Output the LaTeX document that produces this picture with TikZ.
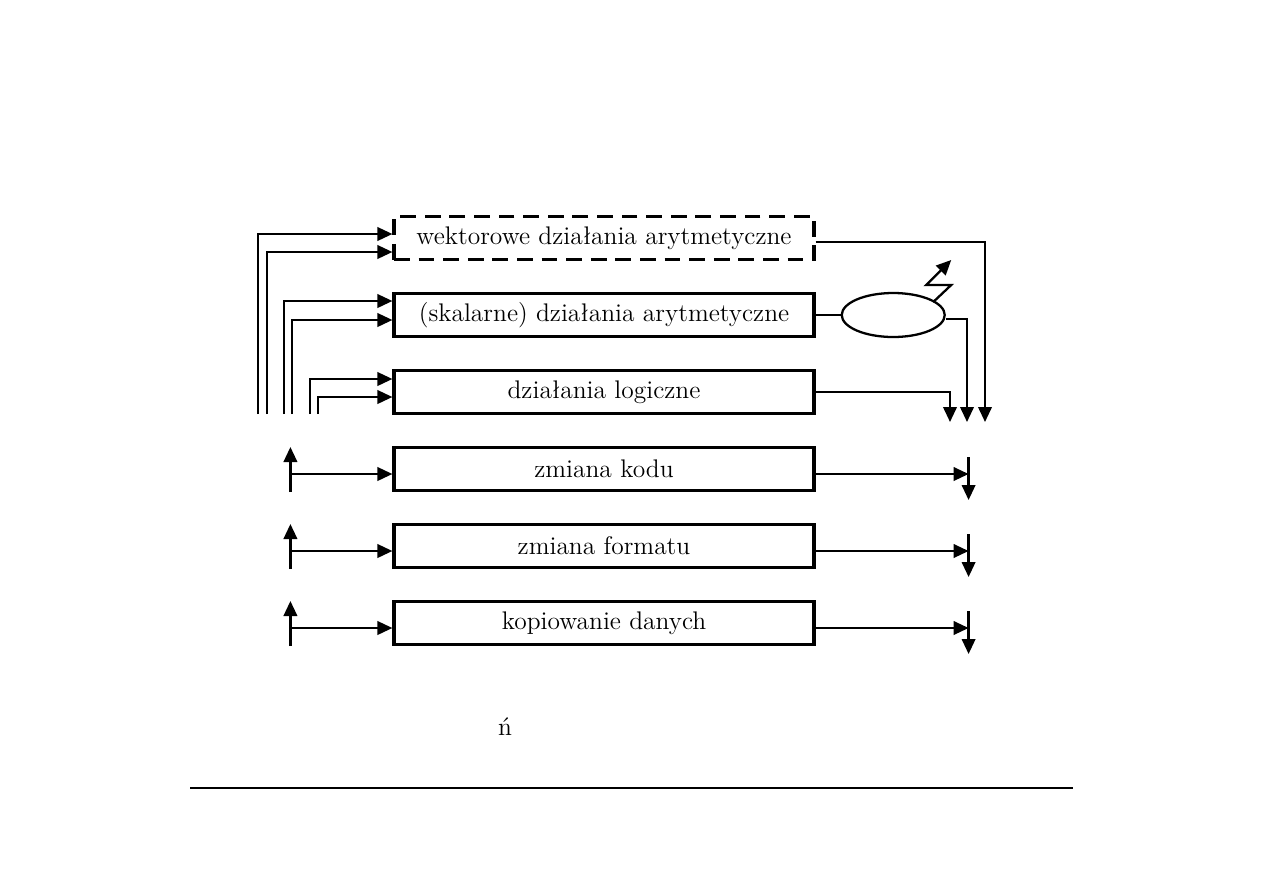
\documentclass[tikz,border=0pt]{standalone}
\usetikzlibrary{positioning,shapes.geometric,arrows.meta}
\tikzset{
  opbox/.style={draw, rectangle, line width=1.8pt, minimum width=8.4cm, minimum height=0.86cm, inner sep=0pt},
}
\begin{document}
\begin{tikzpicture}[node distance=1.54cm,>={Triangle[length=0.3cm,width=0.27cm]},line width=1.3pt,
    font=\fontsize{14.5}{17}\selectfont]
        \useasboundingbox (0,0) rectangle (25.26,-17.86);
        \node (vec) [opbox, dashed, dash pattern=on 9pt off 5pt] at (12.08,-4.76) {wektorowe działania arytmetyczne};
        \node (scal) [opbox, below of=vec] {(skalarne) działania arytmetyczne};
        \node (logic) [opbox, below of=scal] {działania logiczne};
        \node (code) [opbox, below of=logic] {zmiana kodu};
        \node (format) [opbox, below of=code] {zmiana formatu};
        \node (copy) [opbox, below of=format] {kopiowanie danych};
        \node (alu) [draw, ellipse, minimum width=2.06cm, minimum height=0.88cm, right=0.5cm of scal] {};

        % inputs of the first three operations
        \coordinate (in1a) at (5.16,-8.28);
        \coordinate (in1b) at (5.34,-8.28);
        \coordinate (in2a) at (5.68,-8.28);
        \coordinate (in2b) at (5.84,-8.28);
        \coordinate (in3a) at (6.20,-8.28);
        \coordinate (in3b) at (6.36,-8.28);
        \draw[->] (in1a) |- ([yshift=0.08cm]vec.west);
        \draw[->] (in1b) |- ([yshift=-0.28cm]vec.west);
        \draw[->] (in2a) |- ([yshift=0.28cm]scal.west);
        \draw[->] (in2b) |- ([yshift=-0.1cm]scal.west);
        \draw[->] (in3a) |- ([yshift=0.26cm]logic.west);
        \draw[->] (in3b) |- ([yshift=-0.1cm]logic.west);

        % outputs of the first three operations
        \coordinate (out1) at (19.70,-8.44);
        \coordinate (out2) at (19.34,-8.44);
        \coordinate (out3) at (19.00,-8.44);
        \draw[->] ([yshift=-0.08cm]vec.east) -| (out1);
        \draw (scal.east) -- (alu.west);
        \draw[->] ([yshift=-0.08cm]alu.east) -| (out2);
        \draw[->] (logic.east) -| (out3);
        \draw[->] ([xshift=0.8cm,yshift=0.26cm]alu.center) -- ++(0.36,0.34) -- ++(-0.5,0) -- ++(0.5,0.5);

        % the other three operations
        \foreach \b in {code,format,copy} {
            \coordinate (\b-in) at ([xshift=-2.04cm,yshift=-0.1cm]\b.west);
            \coordinate (\b-out) at ([xshift=3.06cm,yshift=-0.1cm]\b.east);
            \draw[->] ([yshift=-0.36cm]\b-in) -- ([yshift=0.54cm]\b-in);
            \draw[->] (\b-in) -- ([yshift=-0.1cm]\b.west);
            \draw[->] ([yshift=-0.1cm]\b.east) -- (\b-out);
            \draw[->] ([yshift=0.34cm]\b-out) -- ([yshift=-0.52cm]\b-out);
        }

        \node (mark) at (10.1,-14.54) {ń};
        \draw[line width=0.8pt] (3.8,-15.76) -- (21.46,-15.76);
    \end{tikzpicture}
\end{document}
